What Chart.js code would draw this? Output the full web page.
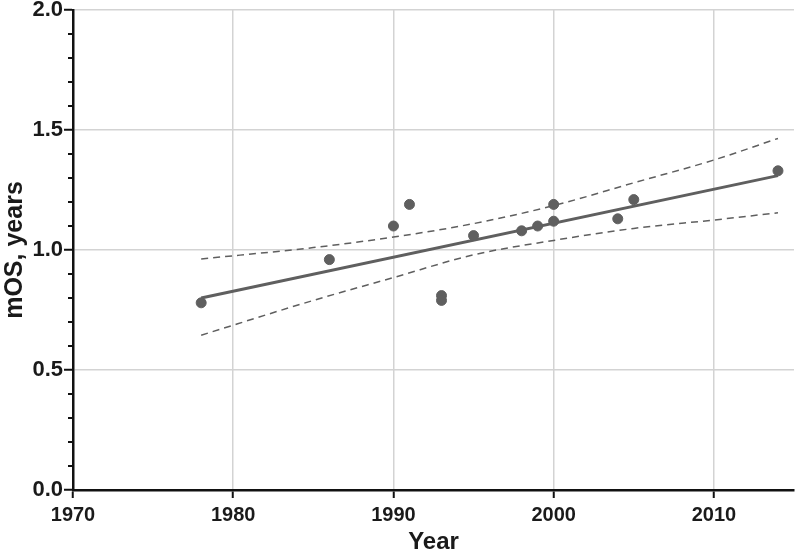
<!DOCTYPE html>
<html>
<head>
<meta charset="utf-8">
<script src="https://cdn.jsdelivr.net/npm/chart.js@4"></script>
<style>
  html, body { margin: 0; padding: 0; background: #fff; }
  #wrap { width: 800px; height: 557px; position: relative; }
</style>
</head>
<body>
<div id="wrap"><canvas id="c"></canvas></div>
<script>
// observed median OS by publication year
const years = [1978, 1986, 1990, 1991, 1993, 1993, 1995, 1998, 1999, 2000, 2000, 2004, 2005, 2014];
const mos   = [0.78, 0.96, 1.10, 1.19, 0.81, 0.79, 1.06, 1.08, 1.10, 1.12, 1.19, 1.13, 1.21, 1.33];

// regression line
const fitYears = [1978, 2014];
const fitVals  = [0.80, 1.31];

// 95% confidence band
const bandYears = [1978, 1985, 1990, 1995, 2000, 2005, 2010, 2014];
const upperBand = [0.963, 1.010, 1.054, 1.110, 1.185, 1.280, 1.375, 1.465];
const lowerBand = [0.645, 0.790, 0.885, 0.980, 1.040, 1.090, 1.125, 1.155];

const xTicks = [1970, 1980, 1990, 2000, 2010];
const yMajor = [0, 0.5, 1.0, 1.5, 2.0];
const yMinorStep = 0.1;

const grey = '#5f5f5f';
const font = '"Liberation Sans", Arial, sans-serif';
const pts = (xs, ys) => xs.map((x, i) => ({ x: x, y: ys[i] }));

// short minor ticks on the y axis
const minorTicks = {
  id: 'minorTicks',
  afterDraw(chart) {
    const y = chart.scales.y;
    const ctx = chart.ctx;
    const x0 = chart.chartArea.left;
    ctx.save();
    ctx.strokeStyle = '#111';
    ctx.lineWidth = 2;
    for (let v = y.min; v <= y.max + 1e-9; v += yMinorStep) {
      const r = Math.round(v * 10) / 10;
      if (yMajor.includes(r)) continue;
      const py = y.getPixelForValue(r);
      ctx.beginPath();
      ctx.moveTo(x0 - 5, py);
      ctx.lineTo(x0, py);
      ctx.stroke();
    }
    ctx.restore();
  }
};

new Chart(document.getElementById('c'), {
  type: 'scatter',
  data: {
    datasets: [
      {
        label: 'mOS',
        data: pts(years, mos),
        backgroundColor: grey,
        borderColor: grey,
        pointRadius: 5,
        pointHoverRadius: 5
      },
      {
        label: 'fit',
        data: pts(fitYears, fitVals),
        showLine: true,
        borderColor: grey,
        borderWidth: 3,
        pointRadius: 0
      },
      {
        label: 'upper',
        data: pts(bandYears, upperBand),
        showLine: true,
        borderColor: grey,
        borderWidth: 1.5,
        borderDash: [7, 5],
        cubicInterpolationMode: 'monotone',
        pointRadius: 0
      },
      {
        label: 'lower',
        data: pts(bandYears, lowerBand),
        showLine: true,
        borderColor: grey,
        borderWidth: 1.5,
        borderDash: [7, 5],
        cubicInterpolationMode: 'monotone',
        pointRadius: 0
      }
    ]
  },
  options: {
    responsive: true,
    maintainAspectRatio: false,
    animation: false,
    layout: { padding: { top: 0, right: 2, left: 0, bottom: 0 } },
    plugins: {
      legend: { display: false },
      tooltip: { enabled: false }
    },
    scales: {
      x: {
        type: 'linear',
        min: 1970,
        max: 2015,
        afterBuildTicks: s => { s.ticks = xTicks.map(v => ({ value: v })); },
        afterFit: s => { s.height = 67; },
        border: { color: '#111', width: 2.5 },
        grid: {
          color: ctx => ctx.tick && ctx.tick.value === 1970 ? 'rgba(0,0,0,0)' : '#d3d3d3',
          lineWidth: 1.5,
          tickColor: '#111',
          tickWidth: 2,
          tickLength: 8
        },
        ticks: {
          color: '#1a1a1a',
          padding: 5,
          font: { family: font, size: 20, weight: 'bold' },
          callback: v => String(v)
        },
        title: {
          display: true,
          text: 'Year',
          color: '#1a1a1a',
          padding: { top: 3, bottom: 0 },
          font: { family: font, size: 24, weight: 'bold' }
        }
      },
      y: {
        min: 0,
        max: 2,
        afterBuildTicks: s => { s.ticks = yMajor.map(v => ({ value: v })); },
        afterFit: s => { s.width = 73; },
        border: { color: '#111', width: 2.5 },
        grid: {
          color: ctx => ctx.tick && ctx.tick.value > 0 ? '#d3d3d3' : 'rgba(0,0,0,0)',
          lineWidth: 1.5,
          tickColor: '#111',
          tickWidth: 2,
          tickLength: 9
        },
        ticks: {
          color: '#1a1a1a',
          padding: 1,
          font: { family: font, size: 22, weight: 'bold', lineHeight: 0.82 },
          callback: v => v.toFixed(1)
        },
        title: {
          display: true,
          text: 'mOS, years',
          color: '#1a1a1a',
          padding: { top: 0, bottom: 2 },
          font: { family: font, size: 25, weight: 'bold' }
        }
      }
    }
  },
  plugins: [minorTicks]
});
</script>
</body>
</html>
